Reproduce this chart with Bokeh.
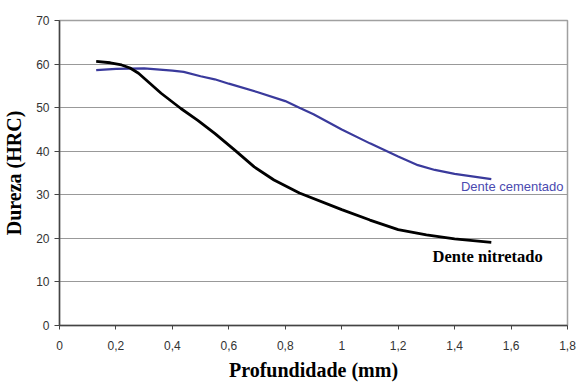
from bokeh.plotting import figure
from bokeh.models import FixedTicker, Label
from bokeh.embed import file_html
from bokeh.resources import INLINE

# Dente nitretado (black)
nit_x = [0.13, 0.18, 0.22, 0.25, 0.28, 0.32, 0.36, 0.43, 0.49, 0.55, 0.62, 0.69, 0.76, 0.85, 1.00, 1.10, 1.20, 1.30, 1.40, 1.53]
nit_y = [60.6, 60.3, 59.8, 59.1, 57.9, 55.6, 53.3, 49.8, 47.1, 44.1, 40.3, 36.4, 33.4, 30.4, 26.6, 24.2, 22.0, 20.8, 19.9, 19.1]

# Dente cementado (blue)
cem_x = [0.13, 0.20, 0.30, 0.40, 0.44, 0.50, 0.55, 0.60, 0.70, 0.80, 0.85, 0.90, 1.00, 1.10, 1.20, 1.27, 1.33, 1.40, 1.53]
cem_y = [58.6, 58.9, 59.0, 58.5, 58.2, 57.2, 56.5, 55.5, 53.6, 51.5, 50.0, 48.5, 45.0, 41.8, 38.8, 36.8, 35.7, 34.8, 33.6]

x_ticks = [0, 0.2, 0.4, 0.6, 0.8, 1.0, 1.2, 1.4, 1.6, 1.8]
x_tick_labels = ["0", "0,2", "0,4", "0,6", "0,8", "1", "1,2", "1,4", "1,6", "1,8"]
y_ticks = [0, 10, 20, 30, 40, 50, 60, 70]

p = figure(width=577, height=383, output_backend="svg", toolbar_location=None,
           x_range=(0, 1.8), y_range=(0, 70),
           min_border_left=59, min_border_right=10, min_border_top=20, min_border_bottom=57)
p.background_fill_color = "white"
p.border_fill_color = "white"
p.outline_line_color = "#a0a0a0"
p.outline_line_width = 1.5

p.xaxis.ticker = FixedTicker(ticks=x_ticks)
p.xaxis.major_label_overrides = {t: l for t, l in zip(x_ticks, x_tick_labels)}
p.yaxis.ticker = FixedTicker(ticks=y_ticks)

for ax in (p.xaxis, p.yaxis):
    ax.axis_line_color = "#444444"
    ax.axis_line_width = 1.5
    ax.major_tick_line_color = "#444444"
    ax.major_tick_in = 0
    ax.minor_tick_line_color = None
    ax.major_label_text_font = "Liberation Sans"
    ax.major_label_text_font_size = "12px"
    ax.major_label_text_color = "#333333"
    ax.axis_label_text_font = "Liberation Serif"
    ax.axis_label_text_font_style = "bold"
    ax.axis_label_text_font_size = "20px"
    ax.axis_label_text_color = "black"

p.xaxis.major_tick_out = 4
p.xaxis.major_label_standoff = 11
p.xaxis.axis_label = "Profundidade (mm)"
p.xaxis.axis_label_standoff = 6
p.yaxis.major_tick_out = 5
p.yaxis.major_label_standoff = 5
p.yaxis.axis_label = "Dureza (HRC)"
p.yaxis.axis_label_standoff = 8

p.xgrid.grid_line_color = None
p.ygrid.grid_line_color = "#999999"
p.ygrid.grid_line_width = 1.2

p.line(cem_x, cem_y, line_color="#3a3a9c", line_width=2.2)
p.line(nit_x, nit_y, line_color="black", line_width=2.8)

p.add_layout(Label(x=1.786, y=32.0, text="Dente cementado", text_align="right",
                   text_baseline="middle", text_font="Liberation Sans",
                   text_font_size="13px", text_color="#4a4ab0"))
p.add_layout(Label(x=1.322, y=15.8, text="Dente nitretado", text_align="left",
                   text_baseline="middle", text_font="Liberation Serif",
                   text_font_style="bold", text_font_size="16.5px", text_color="black"))

open("out.html", "w").write(file_html(p, INLINE))
